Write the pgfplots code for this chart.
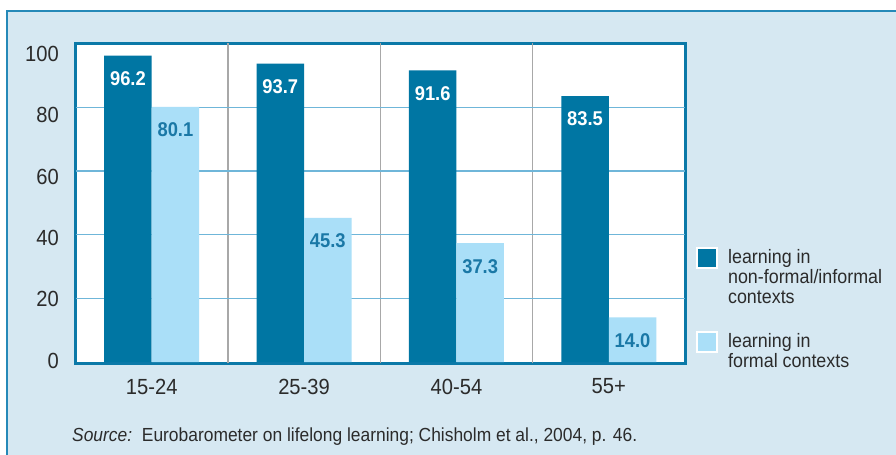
\documentclass[border=0pt]{standalone}
\usepackage{pgfplots}
\pgfplotsset{compat=1.18}
\usepackage{fontspec}
\setmainfont{Liberation Sans}[FakeStretch=0.92]
\definecolor{bgc}{HTML}{D6E8F2}
\definecolor{framec}{HTML}{2589B8}
\definecolor{bordc}{HTML}{0B79A8}
\definecolor{darkc}{HTML}{0076A3}
\definecolor{lightc}{HTML}{AADFF8}
\definecolor{hgridc}{HTML}{6FB6D9}
\definecolor{vgridc}{HTML}{A8A8A8}
\definecolor{txtc}{HTML}{2B2B2B}
\definecolor{valc}{HTML}{1A78A6}
\begin{document}
\begin{tikzpicture}
\path[use as bounding box] (0,0) rectangle (896bp,455bp);
\fill[white] (0,0) rectangle (896bp,455bp);
\fill[bgc] (7bp,0) rectangle (896bp,444bp);
\draw[framec,line width=1.5bp] (7bp,0) -- (7bp,444bp) -- (896bp,444bp);
\begin{axis}[
  at={(75.5bp,91.5bp)}, anchor=south west,
  width=609.5bp, height=320bp, scale only axis,
  xmin=-0.5, xmax=3.5, ymin=-0.45, ymax=100,
  axis background/.style={fill=white},
  axis line style={draw=bordc, line width=3bp},
  ybar=0pt, bar width=47.5bp,
  xtick={0,1,2,3}, xticklabels={15-24,25-39,40-54,55+},
  ytick={0.5,19.7,39.0,58.2,77.5,96.7}, yticklabels={0,20,40,60,80,100},
  major tick length=0pt,
  tick label style={font=\fontsize{22}{22}\selectfont, text=txtc},
  xticklabel style={anchor=center, yshift=-23bp},
  yticklabel style={anchor=east, inner sep=0pt, xshift=-16.5bp},
  extra y ticks={20,40,60,80}, extra y tick labels={},
  extra y tick style={grid=major, major grid style={draw=hgridc, line width=1.3bp}},
  extra x ticks={0.5,1.5,2.5}, extra x tick labels={},
  extra x tick style={grid=major, major grid style={draw=vgridc, line width=1.3bp}},
  /pgf/number format/assume math mode=true,
  nodes near coords={\pgfmathprintnumber[fixed,fixed zerofill,precision=1]{\pgfplotspointmeta}},
  every node near coord/.append style={anchor=center, yshift=-23bp, font=\bfseries\fontsize{20}{20}\selectfont},
  legend style={at={(1.013,0.372)}, anchor=north west, draw=none, fill=none,
    font=\fontsize{19.5}{20}\selectfont, text=txtc, row sep=26bp,
    nodes={inner sep=0pt}, cells={anchor=north west, align=left},
    /tikz/every odd column/.append style={column sep=10bp}},
  legend image code/.code={\draw[#1, draw=white, line width=2bp] (0bp,-18.5bp) rectangle (20bp,1.5bp);},
]
\addplot[fill=darkc, draw=none, every node near coord/.append style={text=white}]
  coordinates {(0,96.2) (1,93.7) (2,91.6) (3,83.5)};
\addlegendentry{learning in\\non-formal/informal\\contexts}
\addplot[fill=lightc, draw=none, every node near coord/.append style={text=valc}]
  coordinates {(0,80.1) (1,45.3) (2,37.3) (3,14.0)};
\addlegendentry{learning in\\formal contexts}
\end{axis}
\node[anchor=base west, text=txtc, font=\fontsize{19}{19}\selectfont, inner sep=0pt] at (72bp,13.5bp)
  {\textit{Source:}\ \ Eurobarometer on lifelong learning; Chisholm et al., 2004, p. 46.};
\end{tikzpicture}
\end{document}
